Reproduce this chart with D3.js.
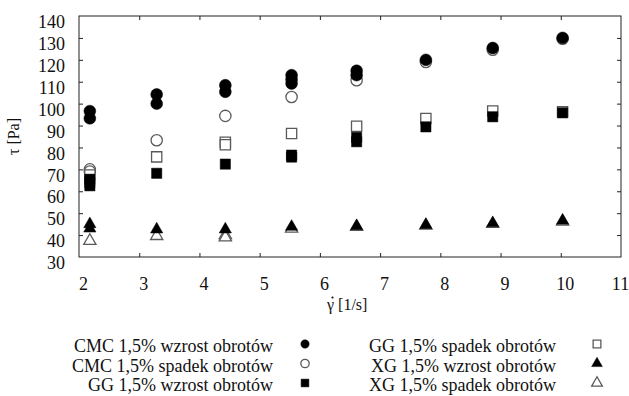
<!DOCTYPE html>
<html><head><meta charset="utf-8">
<script src="https://cdn.jsdelivr.net/npm/d3@7"></script>
<style>body{margin:0;background:#fff}svg{display:block}text{font-family:"Liberation Serif","Times New Roman",serif;fill:#111}</style>
</head><body><div id="chart"></div>
<script>
const xTicks = [2,3,4,5,6,7,8,9,10,11];
const yTicks = [30,40,50,60,70,80,90,100,110,120,130,140];

const cmcUpX = [2.18,2.18,3.29,3.29,4.43,4.43,5.53,5.53,5.53,6.61,6.61,7.76,8.87,10.03];
const cmcUpY = [96.6,93.3,104.2,100,108.4,105.4,113,111,109.2,115,113,120,125.4,130];
const cmcDownX = [2.18,2.18,3.29,4.43,5.53,6.61,7.76,8.87,10.03];
const cmcDownY = [70,69,83.3,94.4,103,110.7,119,124.6,129.6];
const ggUpX = [2.18,2.18,2.18,3.29,4.43,5.53,5.53,6.61,6.61,7.76,8.87,10.03];
const ggUpY = [65.5,64,62.5,68.2,72.4,76.5,75.6,84.6,82.6,89.4,94,95.8];
const ggDownX = [2.18,3.29,4.43,4.43,5.53,6.61,7.76,8.87,10.03];
const ggDownY = [67.4,75.7,82.4,81.2,86.4,89.7,93.2,96.6,96.3];
const xgUpX = [2.18,2.18,3.29,4.43,5.53,6.61,7.76,8.87,10.03];
const xgUpY = [45,43,42.6,42.6,43.8,44.1,44.6,45.4,46.6];
const xgDownX = [2.18,3.29,4.43,4.43,5.53,6.61,7.76,8.87,10.03];
const xgDownY = [37.4,39.6,40,39,43,43.8,44.4,45.1,46.2];

const legendLabels = ["CMC 1,5% wzrost obrotów","CMC 1,5% spadek obrotów","GG 1,5% wzrost obrotów","GG 1,5% spadek obrotów","XG 1,5% wzrost obrotów","XG 1,5% spadek obrotów"];

const W=629,H=396;
const m={l:79,r:8,t:16,b:139};
const FONT="'Liberation Serif','Times New Roman',serif";
const svg=d3.select("#chart").append("svg").attr("width",W).attr("height",H);
const x=d3.scaleLinear().domain([2,11]).range([m.l,W-m.r]);
const y=d3.scaleLinear().domain([30,140]).range([H-m.b,m.t]);

const axisColor="#222";
svg.append("rect").attr("x",x(2)).attr("y",y(140)).attr("width",x(11)-x(2)).attr("height",y(30)-y(140))
  .attr("fill","none").attr("stroke",axisColor).attr("stroke-width",1);

const gx=svg.append("g").attr("transform",`translate(0,${y(30)})`)
  .call(d3.axisBottom(x).tickValues(xTicks).tickSize(-4).tickPadding(20).tickFormat(d3.format("d")));
const gxt=svg.append("g").attr("transform",`translate(0,${y(140)})`)
  .call(d3.axisTop(x).tickValues(xTicks).tickSize(-4).tickFormat(""));
const gy=svg.append("g").attr("transform",`translate(${x(2)},0)`)
  .call(d3.axisLeft(y).tickValues(yTicks).tickSize(-4).tickPadding(14).tickFormat(d3.format("d")));
const gyr=svg.append("g").attr("transform",`translate(${x(11)},0)`)
  .call(d3.axisRight(y).tickValues(yTicks).tickSize(-4).tickFormat(""));
[gx,gxt,gy,gyr].forEach(g=>{
  g.attr("font-family",FONT).attr("font-size",18);
  g.select(".domain").remove();
  g.selectAll(".tick line").attr("stroke",axisColor);
  g.selectAll("text").attr("font-family",FONT).attr("font-size",18).attr("fill","#111");
});
gx.selectAll(".tick text").attr("dx",d=>d===11?-1:4);
gy.selectAll(".tick text").attr("dy","0.65em");
gx.selectAll(".tick").filter(d=>d===2||d===11).select("line").remove();
gxt.selectAll(".tick").filter(d=>d===2||d===11).select("line").remove();
gy.selectAll(".tick").filter(d=>d===30||d===140).select("line").remove();
gyr.selectAll(".tick").filter(d=>d===30||d===140).select("line").remove();

// axis titles
const xt=svg.append("text").attr("x",327).attr("y",310).attr("font-family",FONT).attr("font-size",16);
xt.append("tspan").text("γ");
xt.append("tspan").text(" [1/s]");
svg.append("circle").attr("cx",332.5).attr("cy",297.5).attr("r",1.1).attr("fill","#111");
svg.append("text").attr("transform","translate(19,136.5) rotate(-90)").attr("text-anchor","middle")
  .attr("font-family",FONT).attr("font-size",16).text("τ [Pa]");

// symbols
const openStroke="#5a5a5a";
function draw(sel,type,filled,size){
  const sym = type==="circle"?d3.symbolCircle:type==="square"?d3.symbolSquare:d3.symbolTriangle;
  sel.attr("d",d3.symbol().type(sym).size(size))
     .attr("fill",filled?"#000":"#fff")
     .attr("stroke",filled?"#000":openStroke)
     .attr("stroke-width",filled?0.5:1.3);
}
function series(xs,ys,type,filled,size){
  svg.append("g").selectAll("path").data(xs.map((v,i)=>[v,ys[i]])).join("path")
    .attr("transform",d=>`translate(${x(d[0])},${y(d[1])})`)
    .call(draw,type,filled,size);
}
series(xgDownX,xgDownY,"triangle",false,65);
series(xgUpX,xgUpY,"triangle",true,65);
series(cmcDownX,cmcDownY,"circle",false,100);
series(ggDownX,ggDownY,"square",false,105);
series(ggUpX,ggUpY,"square",true,105);
series(cmcUpX,cmcUpY,"circle",true,110);

// legend
const legTypes=[["circle",true],["circle",false],["square",true],["square",false],["triangle",true],["triangle",false]];
legendLabels.forEach((lab,i)=>{
  const col=Math.floor(i/3), row=i%3;
  const tx = col===0?273:556, mx = col===0?305:597, ty=352+row*19.5;
  svg.append("text").attr("x",tx).attr("y",ty).attr("text-anchor","end")
    .attr("font-family",FONT).attr("font-size",18).text(lab);
  const t=legTypes[i];
  svg.append("path").attr("transform",`translate(${mx},${ty-8})`)
    .call(draw,t[0],t[1],t[0]==="triangle"?50:(t[0]==="square"?60:55));
});
</script></body></html>
